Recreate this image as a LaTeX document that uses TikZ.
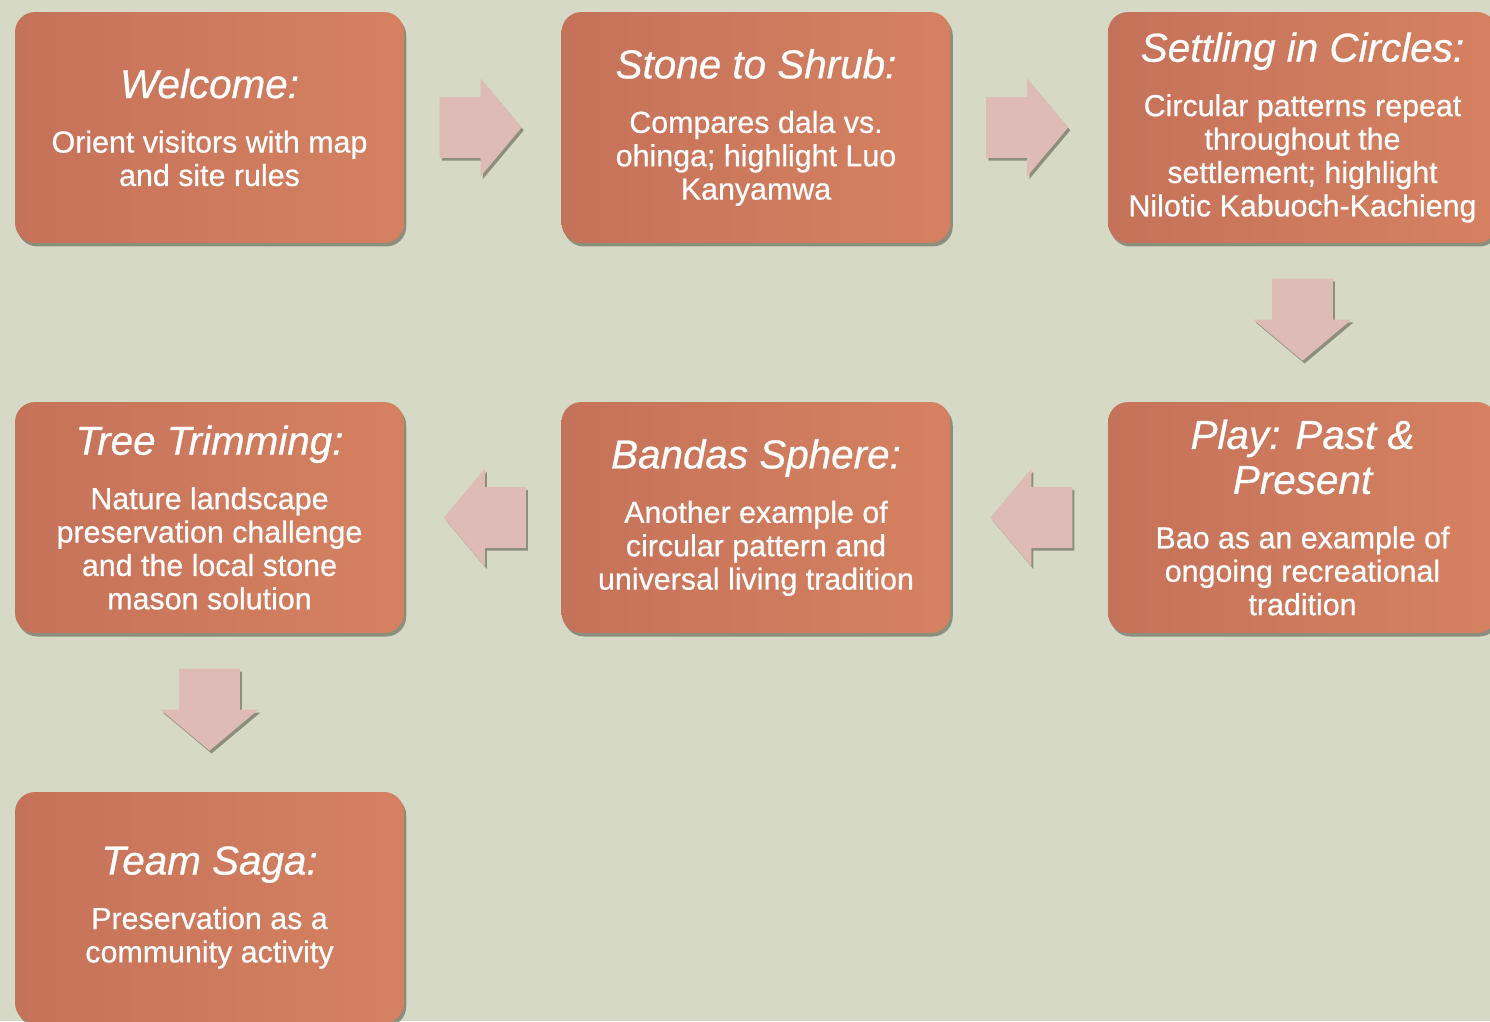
\documentclass[tikz,border=0pt]{standalone}
\usepackage{fontspec}
\setmainfont{Liberation Sans}
\newfontfamily\boxfont{Liberation Sans}[FakeBold=0.6]
\usepackage{tikz}
\usetikzlibrary{shapes.arrows,shadows,calc}
\definecolor{bgc}{HTML}{D6D9C5}
\definecolor{boxdark}{HTML}{C5725A}
\definecolor{boxlight}{HTML}{D58161}
\definecolor{arrowc}{HTML}{DEBBB7}
\definecolor{shadowc}{HTML}{5C5F4E}
\newcommand{\ttl}{\itshape\fontsize{23}{25}\selectfont}
\tikzset{
  stage/.style={rounded corners=0.4cm,minimum width=7.78cm,minimum height=4.62cm,
    left color=boxdark,right color=boxlight,text=white,align=center,
    font=\boxfont\fontsize{17.3}{19}\selectfont,
    drop shadow={shadow xshift=1.3pt,shadow yshift=-2pt,fill=shadowc,opacity=.6}},
  flow/.style={single arrow,fill=arrowc,inner xsep=0pt,inner ysep=0.6cm,
    single arrow head extend=0.37cm,single arrow tip angle=100,
    minimum height=1.64cm,anchor=tail,
    drop shadow={shadow xshift=1.2pt,shadow yshift=-1.6pt,fill=shadowc,opacity=.6}},
  flowdown/.style={flow,shape border rotate=270,inner xsep=0.6cm,inner ysep=0pt}
}
\begin{document}
\begin{tikzpicture}[line cap=round,line join=round,x=0.02cm,y=-0.02cm]
  \fill[bgc] (0,0) rectangle (1490,1021);
  \useasboundingbox (0,0) rectangle (1490,1021);
  % stages
  \node[stage] (welcome) at (209.5,127.5)
    {{\ttl Welcome:}\\[12pt]Orient visitors with map\\and site rules};
  \node[stage] (shrub) at (756,127.5)
    {{\ttl Stone to Shrub:}\\[12pt]Compares dala vs.\\ohinga; highlight Luo\\Kanyamwa};
  \node[stage] (circles) at (1302.5,127.5)
    {{\ttl Settling in Circles:}\\[12pt]Circular patterns repeat\\throughout the\\settlement; highlight\\Nilotic Kabuoch-Kachieng};
  \node[stage] (play) at (1302.5,517.5)
    {{\ttl Play: Past \&}\\[4pt]{\ttl Present}\\[12pt]Bao as an example of\\ongoing recreational\\tradition};
  \node[stage] (bandas) at (756,517.5)
    {{\ttl Bandas Sphere:}\\[12pt]Another example of\\circular pattern and\\universal living tradition};
  \node[stage] (trimming) at (209.5,517.5)
    {{\ttl Tree Trimming:}\\[12pt]Nature landscape\\preservation challenge\\and the local stone\\mason solution};
  \node[stage] (saga) at (209.5,907.5)
    {{\ttl Team Saga:}\\[12pt]Preservation as a\\community activity};
  % arrows between stages
  \node[flow] (a1) at ($(welcome.east)+(35,0)$) {};
  \node[flow] (a2) at ($(shrub.east)+(35,0)$) {};
  \node[flowdown] (a3) at ($(circles.south)+(0,35)$) {};
  \node[flow,shape border rotate=180] (a4) at ($(play.west)+(-35,0)$) {};
  \node[flow,shape border rotate=180] (a5) at ($(bandas.west)+(-35,0)$) {};
  \node[flowdown] (a6) at ($(trimming.south)+(0,35)$) {};
\end{tikzpicture}
\end{document}
